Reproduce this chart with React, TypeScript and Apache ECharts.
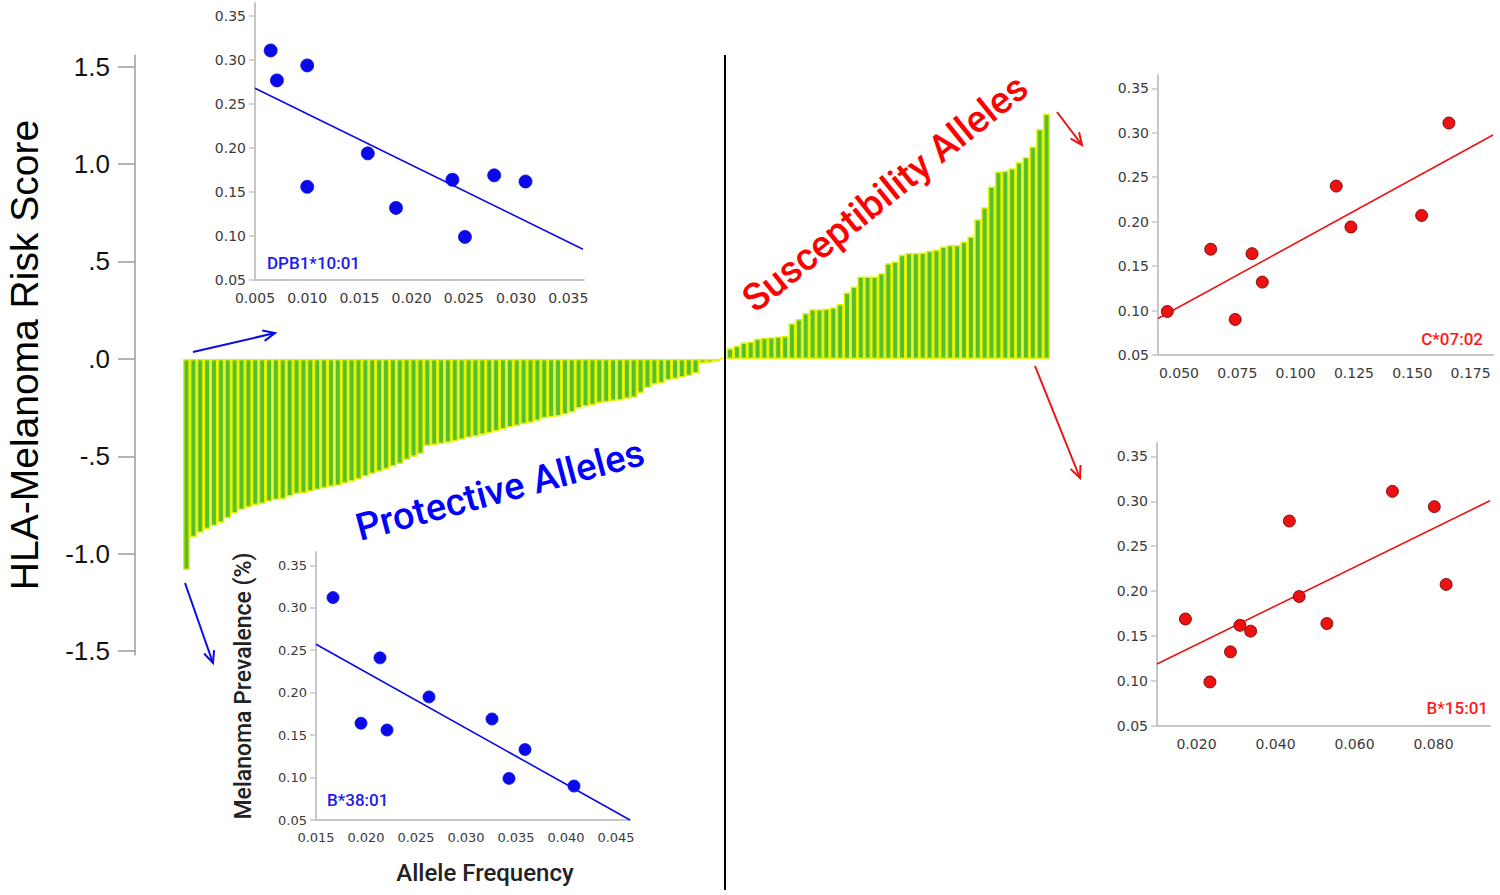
import React, { useEffect, useRef } from 'react';
import * as echarts from 'echarts';

// ---------- main waterfall data ----------
const protectiveScores = [
  -1.084, -0.916, -0.892, -0.873, -0.858, -0.841, -0.818, -0.793, -0.776, -0.762,
  -0.750, -0.745, -0.733, -0.724, -0.721, -0.707, -0.693, -0.690, -0.681, -0.673,
  -0.664, -0.656, -0.651, -0.639, -0.630, -0.618, -0.604, -0.591, -0.579, -0.567,
  -0.553, -0.539, -0.519, -0.502, -0.488, -0.447, -0.442, -0.437, -0.430, -0.423,
  -0.415, -0.405, -0.398, -0.390, -0.382, -0.372, -0.362, -0.352, -0.344, -0.336,
  -0.328, -0.318, -0.305, -0.300, -0.296, -0.285, -0.275, -0.255, -0.245, -0.238,
  -0.226, -0.222, -0.216, -0.213, -0.205, -0.200, -0.175, -0.150, -0.132, -0.125,
  -0.110, -0.103, -0.095, -0.088, -0.075, -0.022, -0.020, -0.015,
];
const neutralScores = [0.003];
const susceptibilityScores = [
  0.055, 0.068, 0.084, 0.089, 0.104, 0.108, 0.111, 0.115, 0.118, 0.183,
  0.205, 0.235, 0.255, 0.255, 0.257, 0.265, 0.282, 0.341, 0.371, 0.423,
  0.423, 0.423, 0.440, 0.491, 0.500, 0.534, 0.543, 0.543, 0.546, 0.555,
  0.560, 0.577, 0.585, 0.585, 0.603, 0.628, 0.717, 0.779, 0.885, 0.962,
  0.966, 0.979, 1.010, 1.036, 1.090, 1.180, 1.258,
];
const riskTicks = [-1.5, -1.0, -0.5, 0, 0.5, 1.0, 1.5];

// ---------- inset scatter data ----------
const prevTicks = [0.05, 0.1, 0.15, 0.2, 0.25, 0.3, 0.35];

const dpb1Freq = [0.0065, 0.0071, 0.0100, 0.0100, 0.0158, 0.0185, 0.0239, 0.0251, 0.0279, 0.0309];
const dpb1Prev = [0.311, 0.277, 0.294, 0.156, 0.194, 0.132, 0.164, 0.099, 0.169, 0.162];
const dpb1FitFreq = [0.005, 0.0364];
const dpb1FitPrev = [0.268, 0.085];
const dpb1FreqTicks = [0.005, 0.01, 0.015, 0.02, 0.025, 0.03, 0.035];

const b3801Freq = [0.0167, 0.0195, 0.0214, 0.0221, 0.0263, 0.0326, 0.0343, 0.0359, 0.0408];
const b3801Prev = [0.312, 0.164, 0.241, 0.156, 0.195, 0.169, 0.099, 0.133, 0.090];
const b3801FitFreq = [0.015, 0.0464];
const b3801FitPrev = [0.257, 0.05];
const b3801FreqTicks = [0.015, 0.02, 0.025, 0.03, 0.035, 0.04, 0.045];

const c0702Freq = [0.045, 0.0636, 0.0741, 0.0813, 0.0857, 0.1174, 0.1237, 0.154, 0.1657];
const c0702Prev = [0.099, 0.169, 0.090, 0.164, 0.132, 0.240, 0.194, 0.207, 0.311];
const c0702FitFreq = [0.041, 0.1846];
const c0702FitPrev = [0.091, 0.2975];
const c0702FreqTicks = [0.05, 0.075, 0.1, 0.125, 0.15, 0.175];

const b1501Freq = [0.0172, 0.0234, 0.0286, 0.031, 0.0337, 0.0435, 0.046, 0.053, 0.0696, 0.0802, 0.0832];
const b1501Prev = [0.169, 0.099, 0.1325, 0.162, 0.1555, 0.278, 0.194, 0.164, 0.311, 0.294, 0.2075];
const b1501FitFreq = [0.01, 0.0943];
const b1501FitPrev = [0.119, 0.3006];
const b1501FreqTicks = [0.02, 0.04, 0.06, 0.08];

// ---------- helpers ----------
const W = 1500;
const H = 895;
const BLUE = '#0a0ae8';
const RED = '#ee1111';
const AXIS_GRAY = '#c6c6c6';

const fmtRisk = (v: number) => {
  if (Math.abs(v) < 1e-9) return '.0';
  const a = Math.abs(v);
  const s = a < 1 ? a.toFixed(1).slice(1) : a.toFixed(1);
  return (v < 0 ? '-' : '') + s;
};

const zip = (a: number[], b: number[]) => a.map((x, i) => [x, b[i]]);

type Box = { l: number; t: number; r: number; b: number };

function buildInset(
  idx: number,
  box: Box,
  xMin: number,
  xMax: number,
  xTicks: number[],
  yMax: number,
  color: string,
  border: string,
  freq: number[],
  prev: number[],
  fitF: number[],
  fitP: number[],
  fontSize: number,
  symbolSize: number,
  extra: any = {}
) {
  const labelStyle = { color: '#3a3a3a', fontSize, fontFamily: 'DejaVu Sans' };
  return {
    grid: {
      left: box.l, top: box.t, right: W - box.r, bottom: H - box.b,
      containLabel: false, outerBoundsMode: 'none',
    },
    xAxis: {
      type: 'value',
      gridIndex: idx,
      min: xMin,
      max: xMax,
      axisLine: { show: true, onZero: false, lineStyle: { color: AXIS_GRAY, width: 2 } },
      axisTick: { show: false },
      axisLabel: { customValues: xTicks, formatter: (v: number) => v.toFixed(3), margin: 11, ...labelStyle },
      splitLine: { show: false },
      ...(extra.xAxis || {}),
    },
    yAxis: {
      type: 'value',
      gridIndex: idx,
      min: 0.05,
      max: yMax,
      axisLine: { show: true, onZero: false, lineStyle: { color: AXIS_GRAY, width: 2 } },
      axisTick: { show: true, customValues: prevTicks, length: 6, lineStyle: { color: AXIS_GRAY, width: 1.5 } },
      axisLabel: { customValues: prevTicks, formatter: (v: number) => v.toFixed(2), margin: 9, ...labelStyle },
      splitLine: { show: false },
      ...(extra.yAxis || {}),
    },
    series: [
      {
        type: 'line',
        xAxisIndex: idx,
        yAxisIndex: idx,
        data: zip(fitF, fitP),
        symbol: 'none',
        lineStyle: { color, width: 1.6 },
        z: 3,
      },
      {
        type: 'scatter',
        xAxisIndex: idx,
        yAxisIndex: idx,
        data: zip(freq, prev),
        symbolSize,
        itemStyle: { color, borderColor: border, borderWidth: 0.8, opacity: 1 },
        z: 4,
      },
    ],
  };
}

function arrow(x1: number, y1: number, x2: number, y2: number, color: string) {
  const ang = Math.atan2(y2 - y1, x2 - x1);
  const L = 13;
  const a = 0.42;
  const p1 = [x2 - L * Math.cos(ang - a), y2 - L * Math.sin(ang - a)];
  const p2 = [x2 - L * Math.cos(ang + a), y2 - L * Math.sin(ang + a)];
  return [
    { type: 'line', z: 50, shape: { x1, y1, x2, y2 }, style: { stroke: color, lineWidth: 2 } },
    { type: 'polyline', z: 50, shape: { points: [p1, [x2, y2], p2] }, style: { stroke: color, lineWidth: 2, fill: null } },
  ];
}

function buildOption() {
  const mainData = [...protectiveScores, ...neutralScores, ...susceptibilityScores];
  const categories = mainData.map((_, i) => String(i + 1));

  const insets = [
    buildInset(1, { l: 255, t: 3, r: 584, b: 280 }, 0.005, 0.0365, dpb1FreqTicks, 0.365, BLUE, BLUE,
      dpb1Freq, dpb1Prev, dpb1FitFreq, dpb1FitPrev, 14, 13),
    buildInset(2, { l: 316, t: 552, r: 630, b: 820 }, 0.015, 0.0464, b3801FreqTicks, 0.3657, BLUE, BLUE,
      b3801Freq, b3801Prev, b3801FitFreq, b3801FitPrev, 13, 12, {
        xAxis: {
          name: 'Allele Frequency',
          nameLocation: 'middle',
          nameGap: 41,
          nameTextStyle: { fontSize: 24, color: '#222', fontFamily: 'Roboto', fontWeight: 500, padding: [0, 0, 0, 24] },
        },
        yAxis: {
          name: 'Melanoma Prevalence (%)',
          nameLocation: 'middle',
          nameGap: 61,
          nameTextStyle: { fontSize: 23, color: '#222', fontFamily: 'Roboto', fontWeight: 500 },
        },
      }),
    buildInset(3, { l: 1158, t: 75, r: 1493, b: 355 }, 0.041, 0.1846, c0702FreqTicks, 0.365, RED, '#5a0000',
      c0702Freq, c0702Prev, c0702FitFreq, c0702FitPrev, 14, 12),
    buildInset(4, { l: 1157, t: 443, r: 1490, b: 726 }, 0.01, 0.0943, b1501FreqTicks, 0.3648, RED, '#5a0000',
      b1501Freq, b1501Prev, b1501FitFreq, b1501FitPrev, 14, 12),
  ];

  const graphics: any[] = [
    { type: 'line', z: 40, shape: { x1: 725, y1: 55, x2: 725, y2: 890 }, style: { stroke: '#000', lineWidth: 2 } },
    ...arrow(193, 352, 275, 333, BLUE),
    ...arrow(185, 583, 213, 663, BLUE),
    ...arrow(1057, 112, 1082, 145, RED),
    ...arrow(1035, 366, 1080, 478, RED),
    {
      type: 'text', z: 60, x: 500, y: 490, rotation: (15 * Math.PI) / 180,
      style: { text: 'Protective Alleles', x: 0, y: 0, align: 'center', verticalAlign: 'middle', fill: '#0000ff', fontSize: 38, fontFamily: 'Roboto', fontWeight: 500 },
    },
    {
      type: 'text', z: 60, x: 885, y: 193, rotation: (38.8 * Math.PI) / 180,
      style: { text: 'Susceptibility Alleles', x: 0, y: 0, align: 'center', verticalAlign: 'middle', fill: '#ff0000', fontSize: 38, fontFamily: 'Roboto', fontWeight: 500 },
    },
    { type: 'text', z: 60, x: 267, y: 263, style: { text: 'DPB1*10:01', align: 'left', verticalAlign: 'middle', fill: '#1a1aee', fontSize: 17, fontFamily: 'Roboto', fontWeight: 500 } },
    { type: 'text', z: 60, x: 327, y: 800, style: { text: 'B*38:01', align: 'left', verticalAlign: 'middle', fill: '#1a1aee', fontSize: 17, fontFamily: 'Roboto', fontWeight: 500 } },
    { type: 'text', z: 60, x: 1483, y: 339, style: { text: 'C*07:02', align: 'right', verticalAlign: 'middle', fill: '#ff1a1a', fontSize: 17, fontFamily: 'Roboto', fontWeight: 500 } },
    { type: 'text', z: 60, x: 1488, y: 708, style: { text: 'B*15:01', align: 'right', verticalAlign: 'middle', fill: '#ff1a1a', fontSize: 17, fontFamily: 'Roboto', fontWeight: 500 } },
  ];

  return {
    animation: false,
    backgroundColor: '#ffffff',
    grid: [
      { left: 183, right: W - 1050, top: 55, bottom: H - 655, containLabel: false, outerBoundsMode: 'none' },
      ...insets.map((s) => s.grid),
    ],
    xAxis: [
      {
        type: 'category',
        gridIndex: 0,
        data: categories,
        show: false,
        boundaryGap: true,
      },
      ...insets.map((s) => s.xAxis),
    ],
    yAxis: [
      {
        type: 'value',
        gridIndex: 0,
        min: -1.52,
        max: 1.56,
        offset: 48,
        position: 'left',
        axisLine: { show: true, onZero: false, lineStyle: { color: '#9c9c9c', width: 1.5 } },
        axisTick: { show: true, customValues: riskTicks, length: 17, lineStyle: { color: '#9c9c9c', width: 1.5 } },
        axisLabel: { customValues: riskTicks, formatter: fmtRisk, fontSize: 26, color: '#111', margin: 25, fontFamily: 'Liberation Sans' },
        splitLine: { show: false },
        name: 'HLA-Melanoma Risk Score',
        nameLocation: 'middle',
        nameGap: 91,
        nameTextStyle: { fontSize: 39, color: '#000', fontFamily: 'Liberation Sans' },
      },
      ...insets.map((s) => s.yAxis),
    ],
    series: [
      {
        type: 'bar',
        xAxisIndex: 0,
        yAxisIndex: 0,
        data: mainData,
        barCategoryGap: '0%',
        itemStyle: { color: '#55bf2c', borderColor: '#e2f200', borderWidth: 1.5 },
      },
      ...insets.flatMap((s) => s.series),
    ],
    graphic: graphics,
  };
}

export default function App() {
  const ref = useRef<HTMLDivElement>(null);
  useEffect(() => {
    const el = ref.current;
    if (!el) return;
    const chart = echarts.init(el, null, { renderer: 'svg', width: W, height: H });
    chart.setOption(buildOption() as any);
    return () => chart.dispose();
  }, []);
  return (
    <div
      ref={ref}
      style={{ position: 'fixed', left: 0, top: 0, width: W, height: H, background: '#fff' }}
    />
  );
}
